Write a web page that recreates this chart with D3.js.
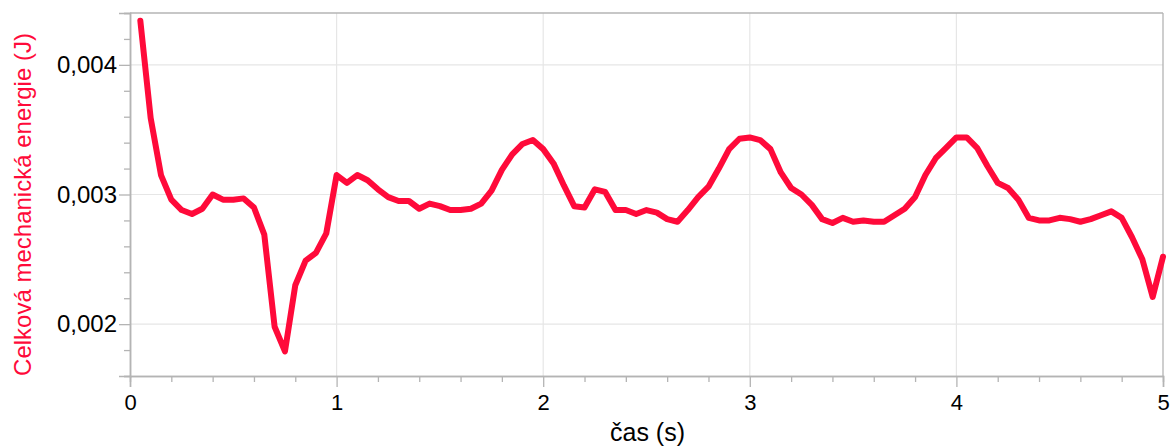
<!DOCTYPE html>
<html>
<head>
<meta charset="utf-8">
<script src="https://cdn.jsdelivr.net/npm/d3@7"></script>
<style>
  html, body { margin: 0; padding: 0; background: #fff; }
  svg { display: block; font-family: "Liberation Sans", Arial, sans-serif; }
</style>
</head>
<body>
<svg id="chart" width="1173" height="446"></svg>
<script>
// Time (s), sampled every 0.05 s
const times = d3.range(1, 101).map(i => +(i * 0.05).toFixed(2));
// Total mechanical energy (J)
const energy = [
  0.00434, 0.00359, 0.00315, 0.00296, 0.00288, 0.00285, 0.00289, 0.00300, 0.00296, 0.00296,
  0.00297, 0.00290, 0.00269, 0.00198, 0.00179, 0.00230, 0.00249, 0.00255, 0.00270, 0.00315,
  0.00309, 0.00315, 0.00311, 0.00304, 0.00298, 0.00295, 0.00295, 0.00289, 0.00293, 0.00291,
  0.00288, 0.00288, 0.00289, 0.00293, 0.00303, 0.00319, 0.00331, 0.00339, 0.00342, 0.00335,
  0.00324, 0.00307, 0.00291, 0.00290, 0.00304, 0.00302, 0.00288, 0.00288, 0.00285, 0.00288,
  0.00286, 0.00281, 0.00279, 0.00288, 0.00298, 0.00306, 0.00320, 0.00335, 0.00343, 0.00344,
  0.00342, 0.00335, 0.00317, 0.00305, 0.00300, 0.00292, 0.00281, 0.00278, 0.00282, 0.00279,
  0.00280, 0.00279, 0.00279, 0.00284, 0.00289, 0.00298, 0.00315, 0.00328, 0.00336, 0.00344,
  0.00344, 0.00336, 0.00322, 0.00309, 0.00305, 0.00296, 0.00282, 0.00280, 0.00280, 0.00282,
  0.00281, 0.00279, 0.00281, 0.00284, 0.00287, 0.00282, 0.00267, 0.00250, 0.00221, 0.00252
];
const xMajorTicks = [0, 1, 2, 3, 4, 5];
const yMajorTicks = [0.002, 0.003, 0.004];
const xLabel = "čas (s)";
const yLabel = "Celková mechanická energie (J)";

const W = 1173, H = 446;
const m = { left: 130, top: 13, right: 10, bottom: 70 };
const svg = d3.select("#chart");

const x = d3.scaleLinear().domain([0, 5]).range([m.left, W - m.right]);
const y = d3.scaleLinear().domain([0.0016, 0.0044]).range([H - m.bottom, m.top]);

const axisColor = "#b4b4b4";
const gridColor = "#e6e6e6";
const red = "#ff0a3a";

// Gridlines
svg.append("g").selectAll("line.vg")
  .data(xMajorTicks.filter(d => d > 0 && d < 5)).join("line")
  .attr("x1", d => x(d)).attr("x2", d => x(d))
  .attr("y1", y.range()[1]).attr("y2", y.range()[0])
  .attr("stroke", gridColor).attr("stroke-width", 1.2);
svg.append("g").selectAll("line.hg")
  .data(yMajorTicks).join("line")
  .attr("x1", x.range()[0]).attr("x2", x.range()[1])
  .attr("y1", d => y(d)).attr("y2", d => y(d))
  .attr("stroke", gridColor).attr("stroke-width", 1.2);

// Frame (top and right)
svg.append("line").attr("x1", x.range()[0]).attr("x2", x.range()[1])
  .attr("y1", y.range()[1]).attr("y2", y.range()[1])
  .attr("stroke", axisColor).attr("stroke-width", 1.3);
svg.append("line").attr("x1", x.range()[1]).attr("x2", x.range()[1])
  .attr("y1", y.range()[1]).attr("y2", y.range()[0])
  .attr("stroke", axisColor).attr("stroke-width", 1.3);

// X axis
const xMinor = d3.range(0, 26).map(i => +(i * 0.2).toFixed(2)).filter(d => !xMajorTicks.includes(d));
const xAxisMinor = d3.axisBottom(x).tickValues(xMinor).tickSize(6).tickFormat("");
const xAxisMajor = d3.axisBottom(x).tickValues(xMajorTicks).tickSize(11).tickPadding(7)
  .tickFormat(d3.format("d"));
const gx1 = svg.append("g").attr("transform", `translate(0,${y.range()[0]})`).call(xAxisMinor);
const gx2 = svg.append("g").attr("transform", `translate(0,${y.range()[0]})`).call(xAxisMajor);
[gx1, gx2].forEach(g => {
  g.select(".domain").attr("stroke", axisColor).attr("stroke-width", 1.5);
  g.selectAll(".tick line").attr("stroke", axisColor).attr("stroke-width", 1.3);
});
gx2.selectAll(".tick text").attr("fill", "#000").attr("font-size", 22)
  .attr("font-family", "Liberation Sans, Arial, sans-serif");

// Y axis
const yMinor = d3.range(8, 23).map(i => +(i * 0.0002).toFixed(4)).filter(d => !yMajorTicks.includes(d));
const yAxisMinor = d3.axisLeft(y).tickValues(yMinor).tickSize(6).tickFormat("");
const commaFmt = d => d3.format(".3f")(d).replace(".", ",");
const yAxisMajor = d3.axisLeft(y).tickValues(yMajorTicks).tickSize(11).tickPadding(2)
  .tickFormat(commaFmt);
const gy1 = svg.append("g").attr("transform", `translate(${x.range()[0]},0)`).call(yAxisMinor);
const gy2 = svg.append("g").attr("transform", `translate(${x.range()[0]},0)`).call(yAxisMajor);
[gy1, gy2].forEach(g => {
  g.select(".domain").attr("stroke", axisColor).attr("stroke-width", 1.5);
  g.selectAll(".tick line").attr("stroke", axisColor).attr("stroke-width", 1.3);
});
gy2.selectAll(".tick text").attr("fill", "#000").attr("font-size", 24)
  .attr("font-family", "Liberation Sans, Arial, sans-serif");

// Axis titles
svg.append("text").attr("x", (x.range()[0] + x.range()[1]) / 2 + 1).attr("y", 441)
  .attr("text-anchor", "middle").attr("font-size", 25).attr("fill", "#000")
  .text(xLabel);
svg.append("text")
  .attr("transform", `translate(31,${(y.range()[0] + y.range()[1]) / 2 + 10}) rotate(-90)`)
  .attr("text-anchor", "middle").attr("font-size", 24).attr("fill", red)
  .text(yLabel);

// Line
const data = times.map((t, i) => ({ t, e: energy[i] }));
svg.append("path").datum(data)
  .attr("fill", "none").attr("stroke", red).attr("stroke-width", 6)
  .attr("stroke-linejoin", "round").attr("stroke-linecap", "round")
  .attr("d", d3.line().x(d => x(d.t)).y(d => y(d.e)));
</script>
</body>
</html>
